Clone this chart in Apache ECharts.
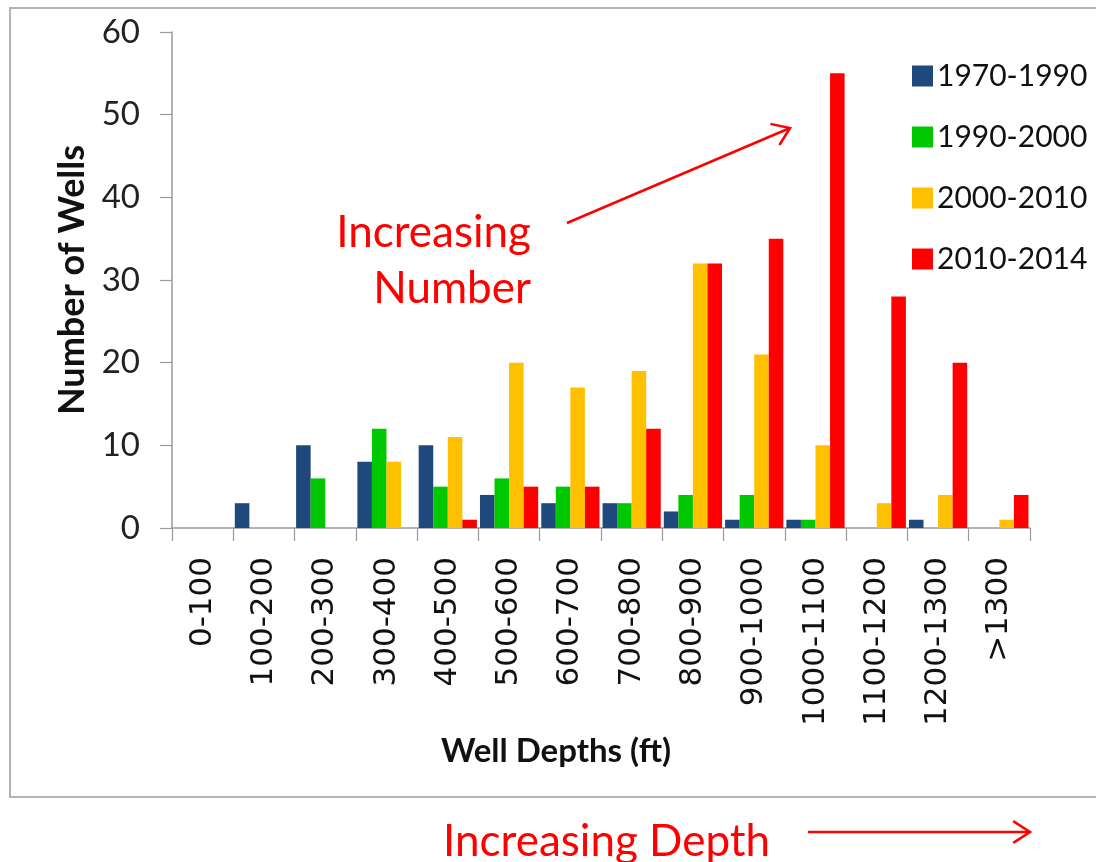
<!DOCTYPE html>
<html>
<head>
<meta charset="utf-8">
<title>Well Depths</title>
<script src="https://cdn.jsdelivr.net/npm/echarts@6/dist/echarts.min.js"></script>
<style>
  html, body { margin: 0; padding: 0; background: #ffffff; }
  #chart { width: 1096px; height: 862px; }
</style>
</head>
<body>
<div id="chart"></div>
<script>
// Depth bins (ft) along the category axis
const depthBins = ['0-100', '100-200', '200-300', '300-400', '400-500', '500-600', '600-700',
                   '700-800', '800-900', '900-1000', '1000-1100', '1100-1200', '1200-1300', '>1300'];

// Number of wells drilled per depth bin, by period
const wells1970to1990 = [0, 3, 10, 8, 10, 4, 3, 3, 2, 1, 1, 0, 1, 0];
const wells1990to2000 = [0, 0, 6, 12, 5, 6, 5, 3, 4, 4, 1, 0, 0, 0];
const wells2000to2010 = [0, 0, 0, 8, 11, 20, 17, 19, 32, 21, 10, 3, 4, 1];
const wells2010to2014 = [0, 0, 0, 0, 1, 5, 5, 12, 32, 35, 55, 28, 20, 4];

const periodNames = ['1970-1990', '1990-2000', '2000-2010', '2010-2014'];
const periodColors = ['#1F497D', '#00C800', '#FFC000', '#FF0000'];

// Value axis range
const countMin = 0;
const countMax = 60;
const countStep = 10;

const periodData = [wells1970to1990, wells1990to2000, wells2000to2010, wells2010to2014];

const calibriLike = 'Lato, "Open Sans", sans-serif';
const red = '#FF0000';

// Straight arrow with an open "V" head, built from its two end points
function arrowShapes(x1, y1, x2, y2, headLen, headDeg) {
  const len = Math.hypot(x2 - x1, y2 - y1);
  const bx = (x1 - x2) / len, by = (y1 - y2) / len;
  const a = headDeg * Math.PI / 180;
  const c = Math.cos(a), s = Math.sin(a);
  const p1 = [x2 + headLen * (bx * c - by * s), y2 + headLen * (bx * s + by * c)];
  const p2 = [x2 + headLen * (bx * c + by * s), y2 + headLen * (-bx * s + by * c)];
  const style = { stroke: red, lineWidth: 2.5, fill: null };
  return [
    { type: 'line', z: 100, shape: { x1: x1, y1: y1, x2: x2, y2: y2 }, style: style },
    { type: 'polyline', z: 100, shape: { points: [p1, [x2, y2], p2] }, style: style }
  ];
}

const chart = echarts.init(document.getElementById('chart'), null, { renderer: 'canvas' });

const option = {
  animation: false,
  backgroundColor: '#ffffff',
  color: periodColors,
  grid: { left: 172, right: 66, top: 32, bottom: 334, containLabel: false },
  legend: {
    orient: 'vertical',
    left: 907,
    top: 56,
    icon: 'rect',
    itemWidth: 21,
    itemHeight: 21,
    itemGap: 31,
    selectedMode: false,
    textStyle: { fontFamily: calibriLike, fontSize: 30, color: '#111111', lineHeight: 30, padding: [0, 0, 0, -1] },
    data: periodNames
  },
  xAxis: {
    type: 'category',
    data: depthBins,
    boundaryGap: true,
    name: 'Well Depths (ft)',
    nameLocation: 'middle',
    nameGap: 207,
    nameTextStyle: {
      fontFamily: calibriLike, fontWeight: 'bold', fontSize: 33, color: '#111111',
      padding: [0, 90, 0, 0]
    },
    axisLine: { show: true, lineStyle: { color: '#9a9a9a', width: 1.5 } },
    axisTick: { show: true, length: 13, alignWithLabel: false, lineStyle: { color: '#9a9a9a', width: 1.2 } },
    axisLabel: {
      interval: 0, rotate: 90, margin: 29,
      fontFamily: '"DejaVu Sans", Verdana, sans-serif', fontSize: 31, color: '#111111'
    },
    splitLine: { show: false }
  },
  yAxis: {
    type: 'value',
    min: countMin,
    max: countMax,
    interval: countStep,
    name: 'Number of Wells',
    nameLocation: 'middle',
    nameGap: 80,
    nameRotate: 90,
    nameTextStyle: { fontFamily: calibriLike, fontWeight: 'bold', fontSize: 36, color: '#111111' },
    axisLine: { show: true, lineStyle: { color: '#9a9a9a', width: 1.5 } },
    axisTick: { show: true, length: 12, lineStyle: { color: '#9a9a9a', width: 1.2 } },
    axisLabel: { margin: 32, fontFamily: calibriLike, fontSize: 33, color: '#222222' },
    splitLine: { show: false }
  },
  series: periodNames.map(function (name, i) {
    return {
      name: name,
      type: 'bar',
      data: periodData[i],
      barGap: '0%',
      barCategoryGap: '5%',
      itemStyle: { color: periodColors[i] },
      emphasis: { disabled: true }
    };
  }),
  graphic: [
    // light frame around the chart area
    {
      type: 'rect', z: -1, silent: true,
      shape: { x: 10, y: 8, width: 1100, height: 789 },
      style: { fill: null, stroke: '#b4b4b4', lineWidth: 2 }
    },
    {
      type: 'text', z: 100, x: 531, y: 233,
      style: {
        text: 'Increasing', fill: red, fontFamily: calibriLike, fontSize: 44,
        align: 'right', verticalAlign: 'middle'
      }
    },
    {
      type: 'text', z: 100, x: 531, y: 289,
      style: {
        text: 'Number', fill: red, fontFamily: calibriLike, fontSize: 44,
        align: 'right', verticalAlign: 'middle'
      }
    },
    {
      type: 'text', z: 100, x: 443, y: 842,
      style: {
        text: 'Increasing Depth', fill: red, fontFamily: calibriLike, fontSize: 44,
        align: 'left', verticalAlign: 'middle'
      }
    }
  ].concat(arrowShapes(567, 223, 790, 128, 20, 35))
   .concat(arrowShapes(808, 832, 1030, 832, 20, 33))
};

chart.setOption(option);
</script>
</body>
</html>
